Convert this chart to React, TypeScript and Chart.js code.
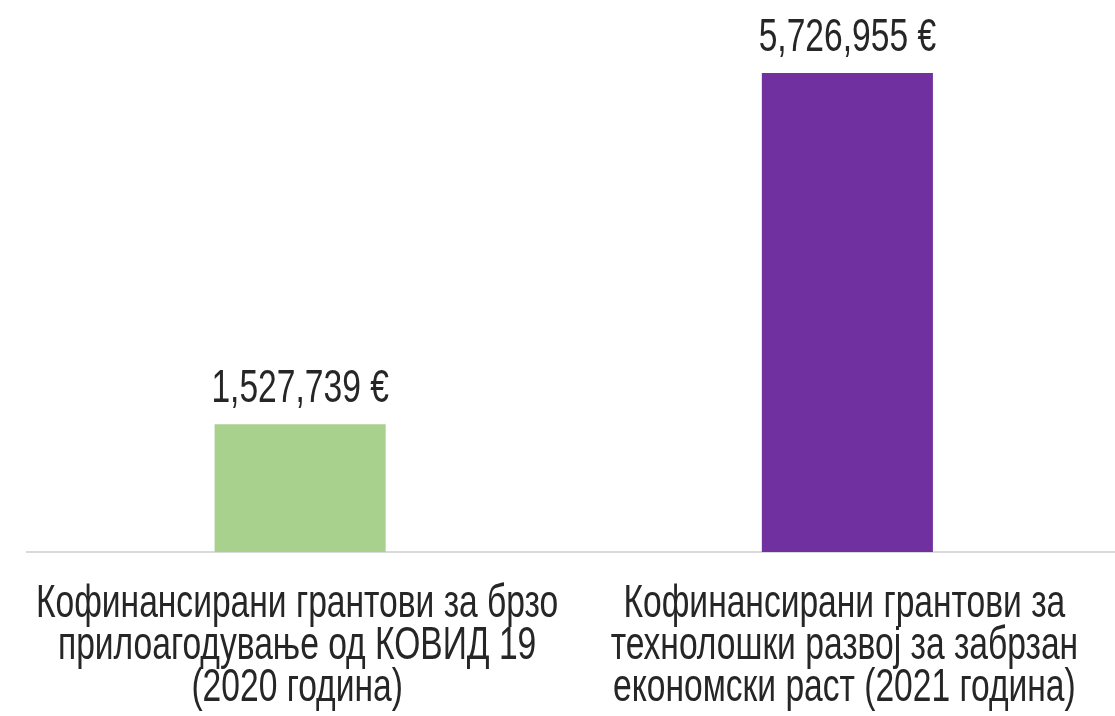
import React, { useEffect, useRef } from "react";
import { Chart, registerables } from "chart.js";

Chart.register(...registerables);

const categories: string[][] = [
  ["Кофинансирани грантови за брзо", "прилоагодување од КОВИД 19", "(2020 година)"],
  ["Кофинансирани грантови за", "технолошки развој за забрзан", "економски раст (2021 година)"],
];
const values: number[] = [1527739, 5726955];
const barColors: string[] = ["#A9D18E", "#7030A0"];

const FONT = "'Liberation Sans', Arial, sans-serif";
const FONT_SIZE = 46;
const X_SQUEEZE = 0.73;
const TEXT_COLOR = "#262626";

const fmt = (v: number) => v.toLocaleString("en-US") + " €";

function drawNarrow(ctx: CanvasRenderingContext2D, text: string, x: number, y: number) {
  ctx.save();
  ctx.translate(x, y);
  ctx.scale(X_SQUEEZE, 1);
  ctx.fillText(text, 0, 0);
  ctx.restore();
}

const textPlugin = {
  id: "textPlugin",
  afterDraw(chart: any) {
    const ctx: CanvasRenderingContext2D = chart.ctx;
    const meta = chart.getDatasetMeta(0);
    const xScale = chart.scales.x;
    ctx.save();
    ctx.font = `${FONT_SIZE}px ${FONT}`;
    ctx.fillStyle = TEXT_COLOR;
    ctx.textAlign = "center";
    ctx.textBaseline = "alphabetic";
    // value labels above bars
    meta.data.forEach((bar: any, i: number) => {
      drawNarrow(ctx, fmt(values[i]), bar.x, bar.y - 22);
    });
    // category labels below the axis
    const labelShift = -3;
    const firstBaselineGap = 65;
    const lineGap = 42;
    categories.forEach((lines, i) => {
      const cx = xScale.getPixelForValue(i) + labelShift;
      lines.forEach((line, j) => {
        drawNarrow(ctx, line, cx, chart.chartArea.bottom + firstBaselineGap + j * lineGap);
      });
    });
    ctx.restore();
  },
};

export default function App() {
  const ref = useRef<HTMLCanvasElement | null>(null);
  useEffect(() => {
    if (!ref.current) return;
    const chart = new Chart(ref.current, {
      type: "bar",
      data: {
        labels: categories.map((c) => c.join(" ")),
        datasets: [
          {
            data: values,
            backgroundColor: barColors,
            barPercentage: 0.3126,
            categoryPercentage: 1,
          },
        ],
      },
      options: {
        animation: false,
        responsive: true,
        maintainAspectRatio: false,
        layout: { padding: { left: 26.5, right: 0, top: 0, bottom: 164 } },
        plugins: { legend: { display: false }, tooltip: { enabled: false } },
        scales: {
          x: {
            grid: { display: false, drawTicks: false },
            border: { color: "#D9D9D9", width: 2 },
            ticks: { display: false },
          },
          y: {
            display: false,
            min: 0,
            max: 6600000,
          },
        },
      },
      plugins: [textPlugin],
    });
    return () => chart.destroy();
  }, []);
  return (
    <div style={{ position: "fixed", left: 0, top: 0, width: 1115, height: 716, overflow: "hidden", background: "#fff" }}>
      <div style={{ position: "absolute", left: 0, top: 0, width: 1121, height: 716 }}>
        <canvas ref={ref} />
      </div>
    </div>
  );
}
